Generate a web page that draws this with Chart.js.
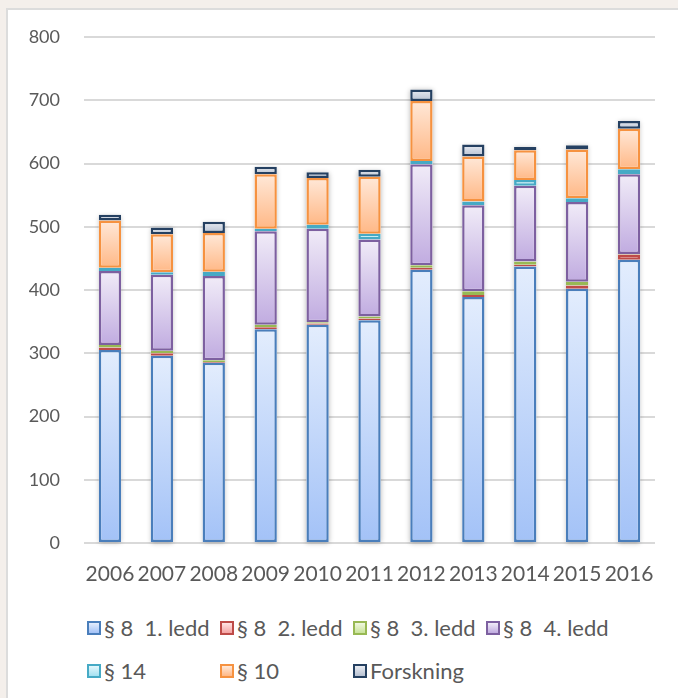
<!DOCTYPE html>
<html>
<head>
<meta charset="utf-8">
<script src="https://cdn.jsdelivr.net/npm/chart.js@4.4.0/dist/chart.umd.min.js"></script>
<style>
  html, body { margin: 0; padding: 0; }
  body {
    width: 678px; height: 698px; position: relative; overflow: hidden;
    background: #f4efeb;
    font-family: Lato, 'Open Sans', sans-serif;
  }
  #box {
    position: absolute; left: 6px; top: 8px; width: 700px; height: 720px;
    background: #fff; border: 2px solid #dcdcdc; box-sizing: border-box;
  }
  #wrap { position: absolute; left: 0; top: 0; width: 678px; height: 600px; }
  #legend {
    position: absolute; left: 87px; top: 606px;
    display: grid; grid-template-columns: repeat(4, 133px); grid-auto-rows: 43px;
    font-size: 22px; color: #595959;
  }
  .item { display: flex; align-items: center; white-space: pre; }
  .swatch { display: block; width: 14px; height: 14px; box-sizing: border-box; border: 2px solid; margin-right: 3px; flex: 0 0 14px; }
</style>
</head>
<body>
<div id="box"></div>
<div id="wrap"><canvas id="chart" width="678" height="600"></canvas></div>
<div id="legend"></div>
<script>
// data
const years = ['2006', '2007', '2008', '2009', '2010', '2011', '2012', '2013', '2014', '2015', '2016'];
const seriesNames = ['§ 8  1. ledd', '§ 8  2. ledd', '§ 8  3. ledd', '§ 8  4. ledd', '§ 14', '§ 10', 'Forskning'];
const ledd1 = [305, 296, 285, 338, 345, 352, 432, 389, 437, 402, 448];
const ledd2 = [4, 4, 1, 3, 2, 3, 3, 3, 3, 5, 8];
const ledd3 = [4, 4, 3, 4, 2, 3, 4, 6, 5, 6, 1];
const ledd4 = [117, 120, 133, 148, 148, 122, 160, 136, 120, 126, 126];
const par14 = [5, 4, 7, 4, 6, 9, 5, 6, 9, 6, 8];
const par10 = [75, 60, 61, 86, 74, 90, 95, 71, 47, 77, 64];
const forskning = [9, 11, 18, 12, 9, 11, 18, 19, 5, 7, 12];
const yTicks = [0, 100, 200, 300, 400, 500, 600, 700, 800];

// styles: border colour, gradient top, gradient bottom
const borders = ['#4a7ebb', '#be4b48', '#98b954', '#7d60a0', '#46aac5', '#f69240', '#254061'];
const fills = [
  ['#e3edfd', '#a3c2f7'],
  ['#ffe3e3', '#f4a3a2'],
  ['#f0f8df', '#c9e39a'],
  ['#f1ecf8', '#c0abe0'],
  ['#e3f7fc', '#a4e1f1'],
  ['#ffe8d8', '#ffb886'],
  ['#e9ecf2', '#b7c1d2']
];
const tickFont = 'Lato, "Open Sans", sans-serif';

const allSeries = [ledd1, ledd2, ledd3, ledd4, par14, par10, forskning];

const datasets = allSeries.map((vals, i) => ({
  label: seriesNames[i],
  data: vals,
  borderColor: borders[i],
  backgroundColor: fills[i][1],
  borderWidth: 2.5,
  borderSkipped: false,
  barPercentage: 0.43,
  categoryPercentage: 1
}));

const barLook = {
  id: 'barLook',
  beforeDatasetsDraw(chart) {
    const ctx = chart.ctx;
    // soft shadow behind each full column
    const first = chart.getDatasetMeta(0).data;
    ctx.save();
    ctx.shadowColor = 'rgba(0,0,0,0.28)';
    ctx.shadowBlur = 5;
    ctx.shadowOffsetY = 1;
    ctx.fillStyle = '#ffffff';
    first.forEach((bar, j) => {
      let top = bar.y;
      chart.data.datasets.forEach((ds, i) => {
        top = Math.min(top, chart.getDatasetMeta(i).data[j].y);
      });
      ctx.fillRect(bar.x - bar.width / 2, top, bar.width, bar.base - top);
    });
    ctx.restore();
    // gradient fill per segment
    chart.data.datasets.forEach((ds, i) => {
      chart.getDatasetMeta(i).data.forEach(bar => {
        const g = ctx.createLinearGradient(0, bar.y, 0, bar.base);
        g.addColorStop(0, fills[i][0]);
        g.addColorStop(1, fills[i][1]);
        bar.options = Object.assign({}, bar.options, { backgroundColor: g });
      });
    });
  }
};

new Chart(document.getElementById('chart'), {
  type: 'bar',
  data: { labels: years, datasets: datasets },
  options: {
    responsive: false,
    animation: false,
    layout: { padding: { left: 0, right: 23, top: 37, bottom: 11 } },
    plugins: { legend: { display: false }, tooltip: { enabled: false } },
    scales: {
      x: {
        stacked: true,
        grid: { display: false, drawTicks: false },
        border: { display: false },
        ticks: { color: '#595959', padding: 19, maxRotation: 0, autoSkip: false,
          font: { family: tickFont, size: 21 } },
        afterFit(scale) { scale.height = 46; }
      },
      y: {
        stacked: true,
        min: 0, max: 800,
        afterBuildTicks(scale) { scale.ticks = yTicks.map(v => ({ value: v })); },
        grid: { color: '#d9d9d9', lineWidth: 2, drawTicks: false },
        border: { display: false },
        ticks: { color: '#595959', padding: 24,
          font: { family: tickFont, size: 18 } },
        afterFit(scale) { scale.width = 84; }
      }
    }
  },
  plugins: [barLook]
});

// legend
const legend = document.getElementById('legend');
seriesNames.forEach((name, i) => {
  const item = document.createElement('div');
  item.className = 'item';
  const sw = document.createElement('span');
  sw.className = 'swatch';
  sw.style.borderColor = borders[i];
  sw.style.background = 'linear-gradient(' + fills[i][0] + ', ' + fills[i][1] + ')';
  item.appendChild(sw);
  item.appendChild(document.createTextNode(name));
  legend.appendChild(item);
});
</script>
</body>
</html>
